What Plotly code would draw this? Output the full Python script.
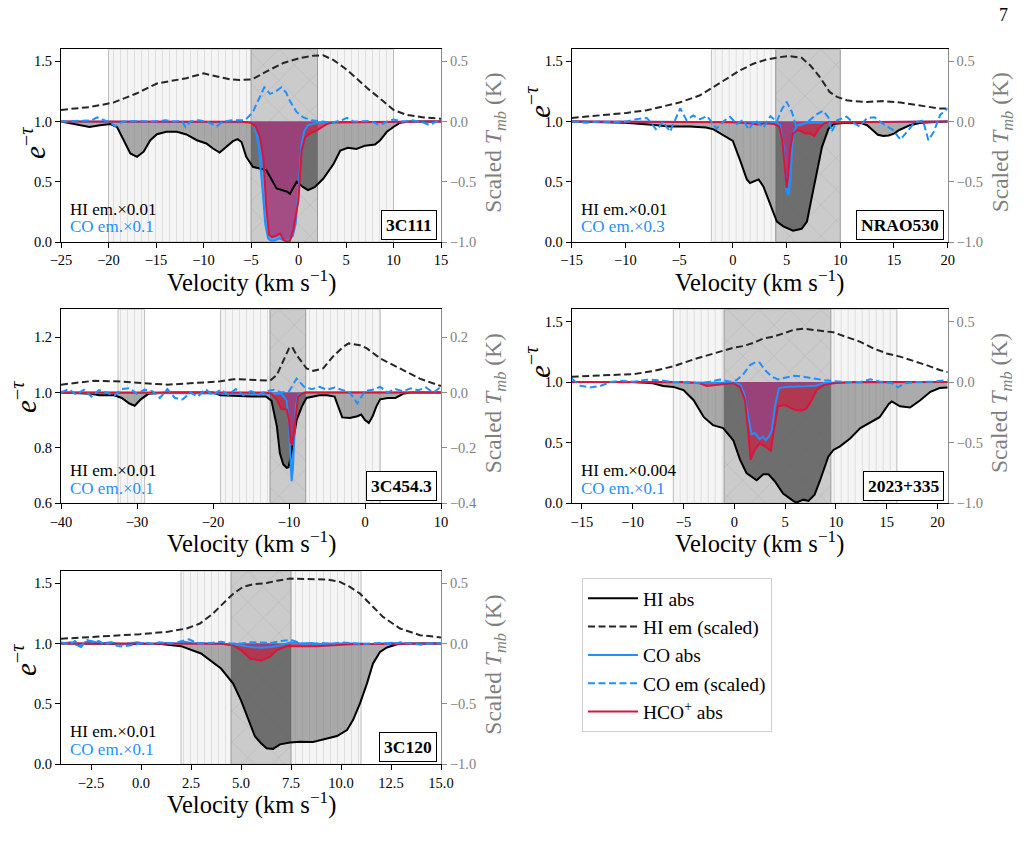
import numpy as np
import plotly.graph_objects as go

W, H = 1027, 844

# ---------------- data ----------------
# 3C111
v111_hi = [-25, -23, -22, -20.9, -19.8, -19.1, -18.4, -17.7, -17.0, -16.3, -15.6, -14.9, -13.9, -12.8, -11.8,
           -10.7, -9.7, -9.0, -8.3, -7.6, -6.9, -6.4, -6.0, -5.5, -4.8, -4.1, -3.4, -2.3, -1.25, -0.9, -0.2,
           0.5, 1.0, 1.7, 2.6, 3.7, 4.4, 5.2, 6.1, 7.0, 8.05, 8.6, 9.3, 10.0, 10.7, 11.7, 13, 15]
hi111_abs = [1.0, 0.97, 0.955, 0.97, 0.98, 0.955, 0.845, 0.735, 0.707, 0.75, 0.845, 0.895, 0.915, 0.915, 0.893,
             0.845, 0.818, 0.776, 0.743, 0.79, 0.837, 0.854, 0.83, 0.707, 0.624, 0.61, 0.597, 0.445, 0.42, 0.40, 0.50,
             0.455, 0.43, 0.455, 0.525, 0.65, 0.76, 0.782, 0.773, 0.80, 0.81, 0.845, 0.915, 0.955, 0.99, 1.0, 1.0, 1.0]
v111_co = [-25, -5, -4.6, -4.2, -3.8, -3.5, -3.2, -2.9, -2.5, -2.0, -1.5, -1.0, -0.6, -0.3, 0.0, 0.3, 0.6, 1.0, 2, 15]
co111_abs = [1.0, 0.995, 0.96, 0.8, 0.45, 0.15, 0.03, 0.01, 0.01, 0.03, 0.01, 0.02, 0.05, 0.15, 0.45, 0.8, 0.92,
             0.97, 0.99, 1.0]
v111_hco = [-25, -6, -5, -4.5, -4.05, -3.7, -3.4, -3.1, -2.8, -2.4, -1.95, -1.6, -1.2, -0.9, -0.55, -0.2, 0.0,
            0.33, 0.7, 1.2, 1.9, 3.0, 3.7, 15]
hco111_abs = [1.0, 0.998, 0.99, 0.96, 0.87, 0.7, 0.3, 0.06, 0.04, 0.05, 0.07, 0.02, 0.0, 0.01, 0.1, 0.25, 0.35,
              0.76, 0.87, 0.9, 0.925, 0.98, 0.995, 1.0]
v111_hiem = [-25, -22, -19.5, -17, -14.9, -11.8, -10, -7.2, -6.2, -4.9, -3.35, -1.6, 0.16, 1.56, 2.6, 3.7, 5.1,
             7.2, 8.9, 10, 11.4, 13.2, 15]
hi111_em = [0.097, 0.12, 0.157, 0.235, 0.316, 0.36, 0.40, 0.35, 0.345, 0.35, 0.417, 0.486, 0.528, 0.547, 0.55,
            0.51, 0.43, 0.28, 0.17, 0.097, 0.055, 0.034, 0.023]
v111_coem = [-25, -23, -21.8, -21.2, -20.5, -19.8, -19.3, -18.5, -17, -15.5, -14, -13, -12.3, -11.9, -11.4, -10.5,
             -9.5, -8.6, -8, -7, -6, -5.5, -4.8, -4.1, -3.6, -3.0, -2.4, -1.8, -1.3, -0.9, -0.2, 0.5, 1.4, 2.5,
             3.5, 4.5, 5.1, 5.8, 6.5, 7.5, 8.6, 9.3, 10, 11, 12, 13.2, 13.8, 14.5, 15]
co111_em = [0.0, 0.005, 0.01, 0.035, 0.01, -0.01, -0.04, 0.0, 0.005, 0.0, 0.01, 0.0, 0.01, -0.045, 0.0, 0.01,
            -0.005, -0.04, 0.0, 0.01, 0.01, 0.02, 0.08, 0.2, 0.285, 0.23, 0.25, 0.285, 0.24, 0.17, 0.08, 0.035,
            0.01, 0.0, -0.01, 0.01, 0.03, 0.0, 0.0, 0.005, -0.03, 0.0, 0.016, 0.0, 0.01, -0.01, -0.03, 0.0, 0.0]

# NRAO530
v530_hi = [-15, -10, -7, -6, -4, -2.5, -1.8, -0.9, 0, 0.67, 1.3, 1.6, 2.4, 2.85, 3.5, 4.1, 4.7, 5.6, 6.4, 6.9,
           7.3, 7.8, 8.3, 8.9, 9.4, 10, 11, 12, 12.5, 13, 13.5, 14, 14.5, 15, 15.5, 16.5, 17.5, 20]
hi530_abs = [1.0, 0.99, 0.97, 0.96, 0.96, 0.95, 0.935, 0.89, 0.84, 0.68, 0.52, 0.49, 0.52, 0.46, 0.30, 0.17,
             0.13, 0.094, 0.11, 0.17, 0.35, 0.57, 0.79, 0.94, 0.98, 0.985, 0.99, 0.985, 0.97, 0.93, 0.89, 0.88,
             0.885, 0.90, 0.93, 0.97, 0.99, 1.0]
v530_co = [-15, 4.0, 4.4, 4.7, 4.9, 5.0, 5.2, 5.35, 5.5, 5.7, 6.0, 7, 20]
co530_abs = [1.0, 0.995, 0.97, 0.8, 0.55, 0.42, 0.39, 0.5, 0.75, 0.92, 0.97, 0.99, 1.0]
v530_hco = [-15, -5, 0, 1.5, 2.3, 3, 3.8, 4.3, 4.6, 4.85, 5.0, 5.15, 5.35, 5.6, 6.0, 6.4, 6.7, 7.2, 7.6, 8.0,
            8.5, 9, 20]
hco530_abs = [1.0, 1.0, 0.995, 0.985, 0.975, 0.985, 0.98, 0.96, 0.85, 0.6, 0.45, 0.55, 0.78, 0.9, 0.93, 0.92,
              0.9, 0.9, 0.88, 0.94, 0.985, 0.995, 1.0]
v530_hiem = [-15, -9.9, -8.0, -6.2, -4.9, -3.05, -1.8, -0.57, 0.67, 1.9, 3.15, 4.4, 5.3, 6.4, 7.2, 8.1, 9.0, 9.7,
             10.6, 11.2, 12.5, 14.0, 15.6, 16.8, 18.4, 19.3, 20]
hi530_em = [0.03, 0.072, 0.094, 0.136, 0.16, 0.218, 0.287, 0.356, 0.425, 0.48, 0.516, 0.535, 0.544, 0.53, 0.467,
            0.37, 0.246, 0.205, 0.177, 0.169, 0.163, 0.17, 0.158, 0.141, 0.122, 0.108, 0.108]
v530_coem = [-15, -13.6, -12.4, -11.1, -9.9, -9.0, -8.0, -7.1, -6.5, -5.85, -4.9, -4.3, -3.7, -3.05, -2.4, -1.5,
             -0.9, -0.26, 0.36, 1.0, 1.45, 2.1, 2.85, 3.5, 4.1, 4.55, 5.0, 5.5, 5.9, 6.6, 7.0, 7.8, 8.4, 8.9, 9.2,
             9.7, 10.6, 11.2, 11.8, 12.5, 13.2, 14.0, 14.9, 15.6, 16.3, 16.9, 17.7, 18.2, 18.7, 19.3, 20]
co530_em = [0.0, -0.01, 0.0, -0.005, 0.0, 0.02, 0.03, -0.07, 0.0, -0.085, 0.11, 0.01, 0.05, 0.02, 0.045, -0.06,
            0.0, 0.04, -0.02, 0.015, -0.065, 0.01, -0.05, 0.045, 0.0, 0.1, 0.165, 0.08, -0.045, -0.02, 0.0, 0.06,
            0.09, 0.035, -0.085, 0.01, 0.04, -0.01, -0.04, 0.03, 0.035, -0.02, -0.07, -0.15, -0.07, -0.01, 0.01,
            -0.155, -0.085, 0.055, 0.11]

# 3C454.3
v454_hi = [-40, -36, -35, -33, -32, -31, -30.3, -29.5, -28.5, -26, -20, -19, -15, -13, -12.3, -11.6, -11.2,
           -10.75, -10.3, -10.05, -9.7, -9.4, -9.0, -8.3, -7.7, -6, -5, -4, -3.5, -3, -2, -1, -0.5, 0, 0.5, 1,
           1.5, 2, 3, 4, 5, 6, 10]
hi454_abs = [1.0, 0.995, 0.99, 0.99, 0.98, 0.96, 0.952, 0.975, 0.995, 1.0, 1.0, 0.99, 0.985, 0.985, 0.97, 0.878,
             0.78, 0.74, 0.728, 0.73, 0.78, 0.83, 0.90, 0.95, 0.98, 0.99, 0.99, 0.985, 0.95, 0.91, 0.908, 0.914,
             0.92, 0.90, 0.89, 0.914, 0.95, 0.975, 0.98, 0.98, 0.995, 1.0, 1.0]
v454_co = [-40, -11, -10.3, -10.0, -9.8, -9.65, -9.5, -9.3, -9.1, -8.8, -8, 10]
co454_abs = [1.0, 0.995, 0.97, 0.88, 0.75, 0.68, 0.72, 0.85, 0.95, 0.99, 1.0, 1.0]
v454_hco = [-40, -13, -12.3, -11.6, -11.0, -10.3, -10.0, -9.75, -9.55, -9.35, -9.2, -8.8, -8.3, -7.8, 10]
hco454_abs = [1.0, 1.0, 0.995, 0.974, 0.94, 0.938, 0.90, 0.82, 0.81, 0.85, 0.89, 0.985, 0.995, 1.0, 1.0]
v454_hiem = [-40, -35.7, -32.7, -26, -19, -17.3, -14.3, -12.5, -11.6, -10.75, -10, -9.6, -9, -7.7, -6.8, -5.5,
             -4.2, -2.85, -2.15, -0.66, 0.2, 2.0, 4.6, 7.2, 9.9, 10]
hi454_em = [0.028, 0.042, 0.04, 0.028, 0.04, 0.048, 0.045, 0.042, 0.063, 0.117, 0.159, 0.165, 0.135, 0.087,
            0.078, 0.087, 0.13, 0.165, 0.177, 0.17, 0.16, 0.123, 0.087, 0.05, 0.024, 0.023]
v454_coem = [-40, -39, -38, -37, -36, -35, -34, -33, -32, -31, -30, -29, -28, -27, -26, -25, -24, -23, -22, -21,
             -20, -19, -18, -17, -16, -15, -14, -13, -12, -11, -10, -9, -8, -7, -6, -5, -4, -3, -2, -1, 0, 1, 2,
             3, 4, 5, 6, 7, 8, 9, 10]
co454_em = [0.0, 0.012, -0.008, 0.01, -0.015, 0.008, 0.0, -0.012, 0.012, 0.015, -0.005, 0.01, 0.005, -0.02, 0.012,
            -0.02, -0.025, 0.0, -0.015, 0.012, -0.01, 0.01, -0.008, 0.012, -0.01, 0.005, -0.008, 0.004, 0.01, 0.0,
            0.004, 0.05, 0.02, 0.012, 0.02, 0.01, 0.018, 0.008, 0.0, -0.04, 0.005, 0.01, 0.02, 0.0, 0.012, 0.004,
            0.015, 0.008, 0.018, 0.0, 0.02]

# 2023+335
v2023_hi = [-16, -10, -8, -7, -6, -5, -4, -3, -2.1, -1.1, -0.1, 0.56, 1.2, 2.2, 2.86, 3.35, 4.0, 4.8, 5.8, 6.1,
            6.8, 7.3, 7.9, 8.4, 9.25, 9.75, 10.4, 11.4, 12.4, 13.4, 14.3, 15.2, 15.5, 16.3, 17.3, 18.3, 19.3,
            20.2, 21]
hi2023_abs = [1.0, 1.0, 0.99, 0.967, 0.96, 0.934, 0.85, 0.71, 0.645, 0.62, 0.52, 0.36, 0.25, 0.19, 0.24, 0.24,
              0.18, 0.08, 0.02, 0.005, 0.03, 0.02, 0.07, 0.18, 0.385, 0.44, 0.47, 0.535, 0.62, 0.67, 0.71, 0.82,
              0.84, 0.80, 0.79, 0.85, 0.92, 0.95, 0.955]
v2023_co = [-16, 0, 0.6, 1.0, 1.4, 1.7, 2.0, 2.5, 2.8, 3.1, 3.4, 3.7, 4.0, 4.4, 5, 6, 7, 8, 8.5, 9, 21]
co2023_abs = [1.0, 0.995, 0.98, 0.9, 0.7, 0.57, 0.58, 0.53, 0.55, 0.52, 0.55, 0.6, 0.8, 0.95, 0.96, 0.96, 0.965,
              0.97, 0.985, 0.995, 1.0]
v2023_hco = [-16, -5, -3.4, -2.7, -1.4, -0.1, 0.56, 1.05, 1.38, 1.6, 2.0, 2.5, 3.0, 3.6, 3.85, 4.3, 5.0, 5.8,
             6.6, 7.1, 7.6, 8.1, 8.8, 9.75, 11.4, 21]
hco2023_abs = [1.0, 1.0, 0.99, 0.967, 0.98, 0.99, 0.956, 0.85, 0.58, 0.36, 0.44, 0.495, 0.47, 0.434, 0.58, 0.80,
               0.81, 0.775, 0.764, 0.78, 0.85, 0.934, 0.975, 0.99, 1.0, 1.0]
v2023_hiem = [-16, -11.9, -9.9, -8.0, -6.0, -4.0, -2.1, -0.1, 0.9, 1.9, 2.9, 3.85, 4.8, 5.8, 6.8, 7.8, 8.8, 9.75,
              11.1, 12.4, 13.7, 15, 16.3, 17.6, 18.9, 20.2, 21]
hi2023_em = [0.044, 0.055, 0.066, 0.09, 0.13, 0.187, 0.236, 0.283, 0.297, 0.324, 0.36, 0.374, 0.40, 0.43, 0.44,
             0.43, 0.423, 0.41, 0.37, 0.332, 0.277, 0.236, 0.21, 0.176, 0.14, 0.10, 0.082]
v2023_coem = [-16, -15.2, -14.2, -13.2, -12.2, -11.2, -9.9, -8.6, -7.3, -6, -4.7, -3.4, -2.4, -1.4, -0.4, 0.23,
              0.9, 1.55, 2.1, 2.5, 3.0, 3.7, 4.3, 5.1, 5.9, 6.8, 7.8, 8.8, 9.75, 11.1, 12.4, 13.4, 14.3, 15.5,
              16.1, 16.8, 17.9, 19.5, 21]
co2023_em = [0.03, -0.03, -0.045, -0.033, 0.0, 0.01, 0.003, 0.02, 0.015, 0.0, 0.0, -0.01, 0.003, 0.02, 0.003,
             0.016, 0.066, 0.14, 0.165, 0.16, 0.10, 0.044, 0.022, 0.038, 0.052, 0.044, 0.027, 0.016, 0.008, 0.0,
             0.0, 0.022, 0.005, -0.01, -0.044, -0.01, 0.0, 0.003, 0.016]

# 3C120
v120_hi = [-4, 0, 1, 2, 3, 4, 4.6, 5.0, 5.37, 5.7, 6.0, 6.28, 6.6, 6.95, 7.45, 7.95, 8.6, 9.3, 9.8, 10.3, 10.6,
           10.95, 11.3, 11.6, 11.95, 12.3, 12.8, 13.3, 15]
hi120_abs = [1.0, 1.0, 0.995, 0.978, 0.917, 0.793, 0.67, 0.53, 0.366, 0.23, 0.174, 0.132, 0.127, 0.165, 0.18,
             0.187, 0.185, 0.215, 0.234, 0.284, 0.366, 0.504, 0.67, 0.835, 0.93, 0.967, 0.994, 1.0, 1.0]
v120_co = [-4, -3.5, -3, -2.8, -2.5, -2, -1.5, -1, -0.6, -0.2, 0.3, 0.8, 1.3, 1.8, 2.2, 2.6, 3, 3.5, 4, 4.5, 5,
           5.5, 6, 6.5, 7, 7.5, 8, 8.5, 9, 9.5, 10, 10.5, 11, 11.5, 12, 12.5, 13, 13.5, 14, 14.5, 15]
co120_abs = [1.0, 1.01, 0.97, 1.01, 1.02, 1.0, 1.01, 0.99, 1.0, 1.01, 0.995, 1.0, 1.005, 1.0, 1.015, 1.0, 1.005,
             0.995, 1.0, 0.99, 0.985, 0.97, 0.965, 0.97, 0.985, 1.01, 1.0, 1.005, 0.995, 1.0, 1.0, 1.005, 1.0,
             0.995, 1.0, 1.005, 1.0, 0.995, 1.0, 1.0, 1.0]
v120_hco = [-4, 3, 4, 4.6, 5.0, 5.45, 6.0, 6.45, 6.8, 7.3, 8.8, 10.45, 15]
hco120_abs = [1.0, 1.0, 0.997, 0.986, 0.945, 0.876, 0.857, 0.89, 0.945, 0.978, 0.978, 0.994, 1.0]
v120_hiem = [-4, -2.05, -0.05, 1.28, 2.28, 2.95, 3.6, 4.1, 4.6, 5.1, 5.6, 6.28, 6.8, 7.45, 8.3, 9.3, 9.95, 10.45,
             10.95, 11.45, 12.1, 12.95, 13.95, 15]
hi120_em = [0.039, 0.055, 0.077, 0.096, 0.124, 0.165, 0.248, 0.33, 0.41, 0.468, 0.49, 0.50, 0.52, 0.537, 0.534,
            0.53, 0.51, 0.468, 0.413, 0.33, 0.22, 0.124, 0.069, 0.05]
v120_coem = [-4, -3.6, -3.3, -3.0, -2.7, -2.4, -2.1, -1.8, -1.5, -1.2, -0.9, -0.6, -0.3, 0, 0.3, 0.6, 0.9, 1.2,
             1.5, 1.8, 2.1, 2.4, 2.7, 3.0, 3.5, 4, 4.5, 5, 5.5, 6, 6.5, 7, 7.5, 8, 8.5, 9, 9.5, 10, 10.5, 11, 11.5,
             12, 12.5, 13, 13.5, 14, 14.5, 15]
co120_em = [0.01, -0.01, 0.02, -0.02, 0.03, 0.01, 0.02, -0.01, 0.01, -0.02, -0.025, -0.02, -0.01, 0.0, 0.005,
            -0.005, 0.01, 0.005, 0.0, 0.01, 0.02, 0.035, 0.01, 0.0, 0.005, 0.015, 0.0, 0.0, 0.01, 0.01, 0.005,
            0.02, 0.03, 0.0, -0.01, 0.005, -0.005, 0.01, 0.0, -0.005, 0.0, 0.005, -0.005, 0.01, 0.0, -0.01, 0.0,
            0.005]

# source names, emission scale labels, velocity windows
source_names = ["3C111", "NRAO530", "3C454.3", "2023+335", "3C120"]
hi_scale_labels = ["HI em.×0.01", "HI em.×0.01", "HI em.×0.01", "HI em.×0.004", "HI em.×0.01"]
co_scale_labels = ["CO em.×0.1", "CO em.×0.3", "CO em.×0.1", "CO em.×0.1", "CO em.×0.1"]
light_windows = [[(-20, 10)], [(-2, 4)], [(-32.5, -29), (-19, 2)], [(-6, 16)], [(2, 11)]]
dark_windows = [[(-5, 2)], [(4, 10)], [(-12.5, -7.8)], [(-1, 9.5)], [(4.5, 7.5)]]

# ---------------- layout geometry (pixels) ----------------
panels = [
    dict(data=(v111_hi, hi111_abs, v111_co, co111_abs, v111_hco, hco111_abs, v111_hiem, hi111_em, v111_coem, co111_em),
         box=(61, 441, 49.3, 242), xr=(-25, 15), xt=dict(dtick=5, tick0=0), yr=(0, 1.6),
         ly=(33, 143)),
    dict(data=(v530_hi, hi530_abs, v530_co, co530_abs, v530_hco, hco530_abs, v530_hiem, hi530_em, v530_coem, co530_em),
         box=(571.7, 947.7, 49.3, 242), xr=(-15, 20), xt=dict(dtick=5, tick0=0), yr=(0, 1.6),
         ly=(538, 102)),
    dict(data=(v454_hi, hi454_abs, v454_co, co454_abs, v454_hco, hco454_abs, v454_hiem, hi454_em, v454_coem, co454_em),
         box=(61, 441, 309.3, 503.3), xr=(-40, 10), xt=dict(dtick=10, tick0=0), yr=(0.6, 1.3),
         ly=(24, 397)),
    dict(data=(v2023_hi, hi2023_abs, v2023_co, co2023_abs, v2023_hco, hco2023_abs, v2023_hiem, hi2023_em, v2023_coem, co2023_em),
         box=(571.7, 947.7, 309.3, 503.3), xr=(-16, 21), xt=dict(dtick=5, tick0=0), yr=(0, 1.6),
         ly=(538, 362)),
    dict(data=(v120_hi, hi120_abs, v120_co, co120_abs, v120_hco, hco120_abs, v120_hiem, hi120_em, v120_coem, co120_em),
         box=(61, 441, 571, 764.3), xr=(-4, 15), xt=dict(dtick=2.5, tick0=0, tickformat=".1f"), yr=(0, 1.6),
         ly=(24, 660)),
]

FONT = "Liberation Serif"
BLUE = "#1E90FF"
CRIMSON = "#DC143C"
GREYTXT = "#7f7f7f"


def px2x(p):
    return p / W


def px2y(p):
    return 1 - p / H


def band(v, y, base=1.0):
    return list(v) + list(v)[::-1], list(y) + [base] * len(v)


def clipped_band(v, y, lo, hi, base=1.0):
    v = np.asarray(v, float)
    y = np.asarray(y, float)
    m = (v > lo) & (v < hi)
    xs = [lo] + list(v[m]) + [hi]
    ys = [float(np.interp(lo, v, y))] + list(y[m]) + [float(np.interp(hi, v, y))]
    return xs + xs[::-1], ys + [base] * len(xs)


fig = go.Figure()
layout = dict(width=W, height=H, margin=dict(l=0, r=0, t=0, b=0, pad=0, autoexpand=False),
              paper_bgcolor="white", plot_bgcolor="rgba(0,0,0,0)", barmode="overlay",
              font=dict(family=FONT, color="black"), hovermode=False, template="none")
annotations = []

for i, p in enumerate(panels, start=1):
    vhi, hi, vco, co, vhc, hc, vhe, he, vce, ce = p["data"]
    xa = "x" if i == 1 else f"x{i}"
    ya = "y" if i == 1 else f"y{i}"
    yr_name = f"y{i + 5}"
    x0, x1, y0, y1 = p["box"]
    ylo, yhi = p["yr"]
    leg = (i == 1)

    # shaded velocity windows
    for lo, hi_ in light_windows[i - 1]:
        fig.add_trace(go.Bar(x=[(lo + hi_) / 2], width=[hi_ - lo], y=[yhi - ylo], base=[ylo], xaxis=xa, yaxis=ya,
                             marker=dict(color="#f4f4f4", line=dict(color="#bdbdbd", width=1),
                                         pattern=dict(shape="|", fgcolor="#dedede", bgcolor="#f5f5f5", size=7,
                                                      solidity=0.15, fillmode="replace")),
                             showlegend=False, hoverinfo="skip"))
    for lo, hi_ in dark_windows[i - 1]:
        fig.add_trace(go.Bar(x=[(lo + hi_) / 2], width=[hi_ - lo], y=[yhi - ylo], base=[ylo], xaxis=xa, yaxis=ya,
                             marker=dict(color="#cbcbcb", line=dict(color="#9a9a9a", width=1),
                                         pattern=dict(shape="x", fgcolor="#b9b9b9", bgcolor="#cbcbcb", size=22,
                                                      solidity=0.06, fillmode="replace")),
                             showlegend=False, hoverinfo="skip"))

    # HI absorption fill (darker where it overlaps the dark window)
    bx, by = band(vhi, hi)
    fig.add_trace(go.Scatter(x=bx, y=by, xaxis=xa, yaxis=ya, mode="none", fill="toself",
                             fillcolor="rgba(128,128,128,0.66)", showlegend=False, hoverinfo="skip"))
    for lo, hi_ in dark_windows[i - 1]:
        cx, cy = clipped_band(vhi, hi, lo, hi_)
        fig.add_trace(go.Scatter(x=cx, y=cy, xaxis=xa, yaxis=ya, mode="none", fill="toself",
                                 fillcolor="rgba(0,0,0,0.28)", showlegend=False, hoverinfo="skip"))
    # CO and HCO+ absorption fills
    bx, by = band(vco, co)
    fig.add_trace(go.Scatter(x=bx, y=by, xaxis=xa, yaxis=ya, mode="none", fill="toself",
                             fillcolor="rgba(30,144,255,0.7)", showlegend=False, hoverinfo="skip"))
    bx, by = band(vhc, hc)
    fig.add_trace(go.Scatter(x=bx, y=by, xaxis=xa, yaxis=ya, mode="none", fill="toself",
                             fillcolor="rgba(220,20,60,0.6)", showlegend=False, hoverinfo="skip"))

    # lines
    fig.add_trace(go.Scatter(x=vhi, y=hi, xaxis=xa, yaxis=ya, mode="lines", name="HI abs",
                             line=dict(color="black", width=2), showlegend=leg, legendrank=1))
    fig.add_trace(go.Scatter(x=vco, y=co, xaxis=xa, yaxis=ya, mode="lines", name="CO abs",
                             line=dict(color=BLUE, width=2), showlegend=leg, legendrank=3))
    fig.add_trace(go.Scatter(x=vhc, y=hc, xaxis=xa, yaxis=ya, mode="lines", name="HCO<sup>+</sup> abs",
                             line=dict(color=CRIMSON, width=2), showlegend=leg, legendrank=5))
    fig.add_trace(go.Scatter(x=vhe, y=he, xaxis=xa, yaxis=yr_name, mode="lines", name="HI em (scaled)",
                             line=dict(color="#262626", width=2, dash="7px,3.5px"), showlegend=leg, legendrank=2))
    fig.add_trace(go.Scatter(x=vce, y=ce, xaxis=xa, yaxis=yr_name, mode="lines", name="CO em (scaled)",
                             line=dict(color=BLUE, width=2, dash="7px,3.5px"), showlegend=leg, legendrank=4))

    # axes
    xkey = "xaxis" if i == 1 else f"xaxis{i}"
    ykey = "yaxis" if i == 1 else f"yaxis{i}"
    rkey = f"yaxis{i + 5}"
    xt = dict(p["xt"])
    layout[xkey] = dict(domain=[px2x(x0), px2x(x1)], anchor=ya, range=list(p["xr"]), showgrid=False, zeroline=False,
                        automargin=False, showline=True, linecolor="black", linewidth=1, mirror=True,
                        ticks="outside", ticklen=5, tickcolor="black",
                        tickfont=dict(size=14.5, family=FONT, color="black"), **xt)
    if ylo == 0:
        lt = dict(tickvals=[0, 0.5, 1.0, 1.5], tickformat=".1f")
        rt = dict(tickvals=[-1.0, -0.5, 0.0, 0.5], tickformat=".1f")
    else:
        lt = dict(tickvals=[0.6, 0.8, 1.0, 1.2], tickformat=".1f")
        rt = dict(tickvals=[-0.4, -0.2, 0.0, 0.2], tickformat=".1f")
    layout[ykey] = dict(domain=[px2y(y1), px2y(y0)], anchor=xa, range=[ylo, yhi], showgrid=False, zeroline=False,
                        automargin=False, showline=True, linecolor="black", linewidth=1, ticks="outside",
                        ticklen=5, tickcolor="black", tickfont=dict(size=14.5, family=FONT, color="black"), **lt)
    layout[rkey] = dict(overlaying=ya, anchor=xa, side="right", range=[ylo - 1, yhi - 1], showgrid=False,
                        zeroline=False, automargin=False, showline=True, linecolor="#8c8c8c", linewidth=1,
                        ticks="outside", ticklen=5, tickcolor="#8c8c8c",
                        tickfont=dict(size=14.5, family=FONT, color=GREYTXT), **rt)

    # titles and labels
    cx = (x0 + x1) / 2
    cy = (y0 + y1) / 2
    annotations.append(dict(text="Velocity (km s<sup>−1</sup>)", x=px2x(cx), y=px2y(y1 + 39), xref="paper",
                            yref="paper", showarrow=False, xanchor="center", yanchor="middle",
                            font=dict(size=24.5, family=FONT, color="black")))
    annotations.append(dict(text="<i>e</i><sup>−<i>τ</i></sup>", x=px2x(p["ly"][0]), y=px2y(p["ly"][1]),
                            xref="paper", yref="paper", showarrow=False, textangle=-90, xanchor="center",
                            yanchor="middle", font=dict(size=29, family=FONT, color="black")))
    annotations.append(dict(text="Scaled <i>T</i><sub><i>mb</i></sub> (K)", x=px2x(x1 + 54), y=px2y(cy - 3),
                            xref="paper", yref="paper", showarrow=False, textangle=-90, xanchor="center",
                            yanchor="middle", font=dict(size=23.5, family=FONT, color=GREYTXT)))
    annotations.append(dict(text=hi_scale_labels[i - 1], x=px2x(x0 + 7), y=px2y(y1 - 33), xref="paper",
                            yref="paper", showarrow=False, xanchor="left", yanchor="middle",
                            font=dict(size=17, family=FONT, color="black")))
    annotations.append(dict(text=co_scale_labels[i - 1], x=px2x(x0 + 7), y=px2y(y1 - 15), xref="paper",
                            yref="paper", showarrow=False, xanchor="left", yanchor="middle",
                            font=dict(size=17, family=FONT, color=BLUE)))
    annotations.append(dict(text="<b>" + source_names[i - 1] + "</b>", x=px2x(x1 - 4), y=px2y(y1 - 2),
                            xref="paper", yref="paper", showarrow=False, xanchor="right", yanchor="bottom",
                            bordercolor="black", borderwidth=1, borderpad=4, bgcolor="white",
                            font=dict(size=17.5, family=FONT, color="black")))

annotations.append(dict(text="7", x=px2x(1003), y=px2y(15), xref="paper", yref="paper", showarrow=False,
                        xanchor="center", yanchor="middle", font=dict(size=18, family=FONT, color="black")))

layout["annotations"] = annotations
layout["legend"] = dict(x=px2x(582), y=px2y(578), xanchor="left", yanchor="top", bgcolor="white",
                        bordercolor="#d0d0d0", borderwidth=1, font=dict(size=19.5, family=FONT, color="black"),
                        itemwidth=50, tracegroupgap=0)
layout["showlegend"] = True

fig.update_layout(**layout)
fig.write_html("out.html")
